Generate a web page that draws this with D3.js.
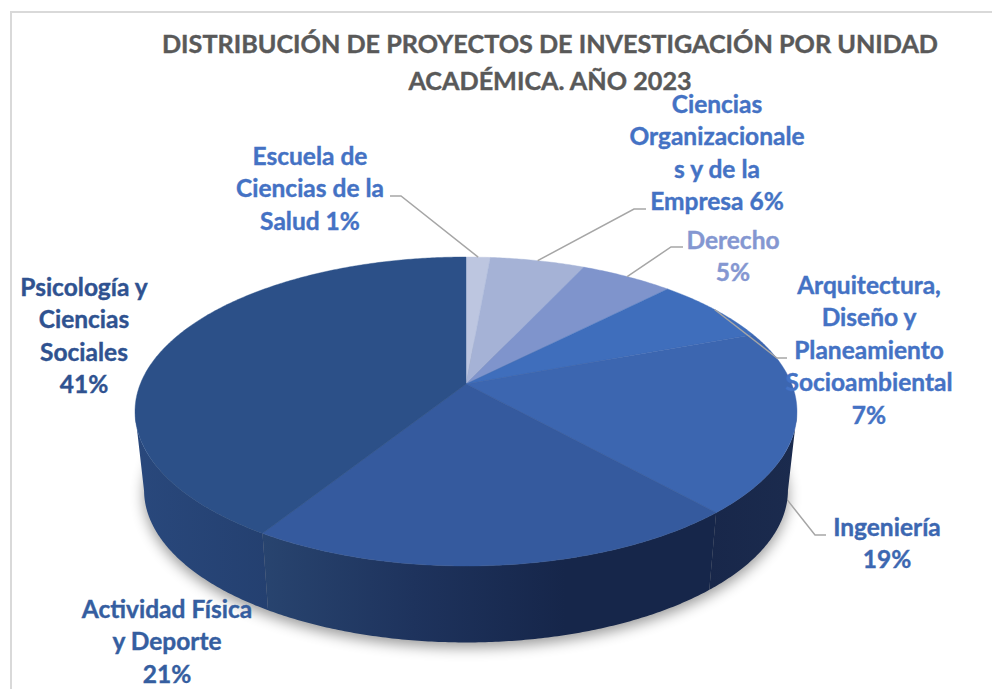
<!DOCTYPE html>
<html lang="es">
<head>
<meta charset="utf-8">
<script src="https://cdn.jsdelivr.net/npm/d3@7/dist/d3.min.js"></script>
<style>
html,body{margin:0;padding:0;background:#fff;overflow:hidden}
svg{display:block}
text{font-family:Lato,"Open Sans",sans-serif;font-weight:700;text-anchor:middle;paint-order:stroke}
</style>
</head>
<body>
<script>
// ---- data (slice sizes are estimated; labels are as printed)
const titleLines = ["DISTRIBUCIÓN DE PROYECTOS DE INVESTIGACIÓN POR UNIDAD", "ACADÉMICA. AÑO 2023"];
const categories = ["Escuela de Ciencias de la Salud", "Ciencias Organizacionales y de la Empresa", "Derecho",
  "Arquitectura, Diseño y Planeamiento Socioambiental", "Ingeniería", "Actividad Física y Deporte", "Psicología y Ciencias Sociales"];
const values = [1.4, 5.5, 5.4, 7, 19.1, 20.5, 41.1];
const printedPercent = ["1%", "6%", "5%", "7%", "19%", "21%", "41%"];
const labelLines = [
  ["Escuela de", "Ciencias de la", "Salud 1%"],
  ["Ciencias", "Organizacionale", "s y de la", "Empresa 6%"],
  ["Derecho", "5%"],
  ["Arquitectura,", "Diseño y", "Planeamiento", "Socioambiental", "7%"],
  ["Ingeniería", "19%"],
  ["Actividad Física", "y Deporte", "21%"],
  ["Psicología y", "Ciencias", "Sociales", "41%"]
];

// ---- styling and layout, separate from the data
const topColors = ["#bdc6e0", "#a5b2d6", "#7f94cc", "#3f6ebc", "#3c66b0", "#355a9e", "#2c5088"];
const sideColors = [
  ["#8d97b0", "#8d97b0"], ["#7c88a8", "#7c88a8"], ["#5f6f9c", "#5f6f9c"], ["#2c4f88", "#2c4f88"],
  ["#18274a", "#1b2b4e"], ["#28446f", "#1e335d", "#16264a", "#16264a"], ["#29487c", "#244070"]
];
const labelColors = ["#4472c4", "#4472c4", "#8497d1", "#4472c4", "#3c67b1", "#355ea0", "#2f5290"];
const labelPlace = [
  {x: 310, y: 156}, {x: 717, y: 104}, {x: 733, y: 240}, {x: 869, y: 285},
  {x: 887, y: 527}, {x: 167, y: 609}, {x: 84, y: 287}
];
const leaders = [
  {ex: 390, ey: 196, kx: 401, level: 0}, {ex: 646, ey: 209, kx: 634, level: 0}, {ex: 683, ey: 247, kx: 671, level: 0},
  {ex: 787, ey: 358, kx: 777, level: 0}, {ex: 826, ey: 535, kx: 815, level: 1}, null, null
];
const lineStep = 32.5;
const W = 992, H = 689;

// ---- perspective disc: the top and bottom faces are projected circles
const persp = 0.178;
const faces = [
  {cx: 466, ay: 384, a: 325.7, b: 149.6},
  {cx: 466, ay: 463, a: 316.8, b: 147.5}
];
function project(theta, level) {
  const f = faces[level], u = Math.sin(theta), v = Math.cos(theta), w = 1 + persp * v;
  return [f.cx + f.a * u / w, f.ay - f.b * v / w];
}

const pie = d3.pie().value(d => d).sort(null);
const arcs = pie(values);
const lineGen = d3.line();
const STEP = Math.PI / 360;
function samples(a0, a1) {
  const n = Math.max(2, Math.ceil((a1 - a0) / STEP));
  return d3.range(n + 1).map(i => a0 + (a1 - a0) * i / n);
}

const svg = d3.select("body").append("svg").attr("width", W).attr("height", H);
const defs = svg.append("defs");
defs.append("filter").attr("id", "soft").attr("x", "-10%").attr("y", "-10%").attr("width", "120%").attr("height", "125%")
  .append("feGaussianBlur").attr("stdDeviation", 7);

// frame
svg.append("path").attr("d", lineGen([[W, 12], [11, 12], [11, H]]))
  .attr("fill", "none").attr("stroke", "#d9d9d9").attr("stroke-width", 2);

// soft shadow under the disc
svg.append("path")
  .attr("d", lineGen(samples(0, 2 * Math.PI).map(t => { const p = project(t, 1); return [p[0], p[1] + 5]; })) + "Z")
  .attr("fill", "#000").attr("opacity", 0.4).attr("filter", "url(#soft)");

const leaderG = svg.append("g");

// side wall: one shape per slice, only the part between the rim's two side extremes
arcs.forEach((d, i) => {
  const ts = samples(d.startAngle, d.endAngle).filter(t => Math.cos(t) < -persp);
  if (ts.length < 2) return;
  const upper = ts.map(t => project(t, 0));
  const lower = ts.map(t => project(t, 1)).reverse();
  const outline = [...upper, ...lower];
  const xs = d3.extent(outline, p => p[0]);
  const gid = "side" + i;
  const stops = sideColors[i];
  const grad = defs.append("linearGradient").attr("id", gid).attr("gradientUnits", "userSpaceOnUse")
    .attr("x1", xs[0]).attr("x2", xs[1]).attr("y1", 0).attr("y2", 0);
  grad.selectAll("stop").data(stops).join("stop")
    .attr("offset", (c, k) => k / (stops.length - 1)).attr("stop-color", c => c);
  svg.append("path").attr("d", lineGen(outline) + "Z").attr("fill", `url(#${gid})`);
});

// top face
arcs.forEach((d, i) => {
  const edge = samples(d.startAngle, d.endAngle).map(t => project(t, 0));
  svg.append("path")
    .attr("d", lineGen([[faces[0].cx, faces[0].ay], ...edge]) + "Z")
    .attr("fill", topColors[i]).attr("stroke", topColors[i]).attr("stroke-width", 0.4);
});

// leaders
leaders.forEach((l, i) => {
  if (!l) return;
  const d = arcs[i];
  const p = project((d.startAngle + d.endAngle) / 2, l.level);
  (l.level === 0 ? svg : leaderG).append("path")
    .attr("d", lineGen([[l.ex, l.ey], [l.kx, l.ey], p])).attr("fill", "none")
    .attr("stroke", "#a6a6a6").attr("stroke-width", 1.5);
});

// title
svg.append("g").selectAll("text").data(titleLines).join("text")
  .attr("x", 550).attr("y", (d, i) => 53 + i * 37)
  .attr("fill", "#595959").attr("stroke", "#595959").attr("stroke-width", 0.4)
  .attr("font-size", 25.2).text(d => d);

// data labels
labelLines.forEach((lines, i) => {
  const place = labelPlace[i];
  svg.append("g").selectAll("text").data(lines).join("text")
    .attr("x", place.x).attr("y", (d, j) => place.y + 8.5 + j * lineStep)
    .attr("fill", labelColors[i]).attr("stroke", labelColors[i]).attr("stroke-width", 0.4)
    .attr("font-size", 24.5).text(d => d);
});
</script>
</body>
</html>
